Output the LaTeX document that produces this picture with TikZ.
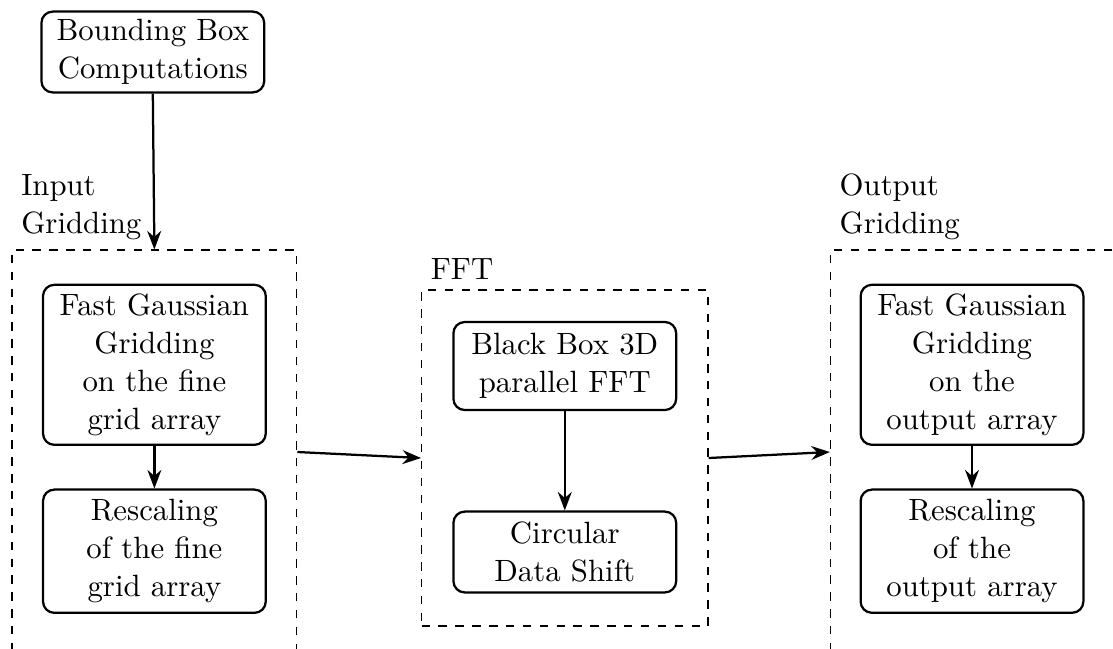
\documentclass[tikz,border=0pt]{standalone}
\usepackage{tikz}
\usetikzlibrary{arrows.meta,positioning}

\begin{document}
\begin{tikzpicture}[
    font=\fontsize{10.95}{13.6}\selectfont,
    stagebox/.style={draw, thick, rounded corners, text width=2.55cm, inner ysep=2pt, align=center},
    frame/.style={draw, dashed, minimum width=3.56cm},
    framelabel/.style={align=left, inner sep=3.3pt},
    arr/.style={-{Stealth}, thick}
  ]
    \clip (0,0) rectangle (13.9125,-8.1);

    \node[stagebox, minimum height=1.01cm] (bbox) at (1.91,-0.65) {Bounding Box\\Computations};

    % input gridding
    \node[frame, minimum height=5.05cm] (inp) at (1.93,-5.65) {};
    \node[framelabel, above right=0mm of inp.north west] (inplab) {Input\\Gridding};
    \node[stagebox, minimum height=2.0cm] (fggin) at (1.93,-4.56) {Fast Gaussian\\Gridding\\on the fine\\grid array};
    \node[stagebox, minimum height=1.54cm] (rscin) at (1.93,-6.89) {Rescaling\\of the fine\\grid array};

    % fft
    \node[frame, minimum width=3.58cm, minimum height=4.2cm] (fft) at (7.06,-5.725) {};
    \node[framelabel, above right=0mm of fft.north west] (fftlab) {FFT};
    \node[stagebox, minimum height=1.1cm] (bbfft) at (7.06,-4.575) {Black Box 3D\\parallel FFT};
    \node[stagebox, minimum height=1.01cm] (shift) at (7.06,-6.9) {Circular\\Data Shift};

    % output gridding
    \node[frame, minimum height=5.05cm] (outp) at (12.16,-5.65) {};
    \node[framelabel, above right=0mm of outp.north west] (outlab) {Output\\Gridding};
    \node[stagebox, minimum height=2.0cm] (fggout) at (12.15,-4.56) {Fast Gaussian\\Gridding\\on the\\output array};
    \node[stagebox, minimum height=1.54cm] (rscout) at (12.15,-6.89) {Rescaling\\of the\\output array};

    \draw[arr] (bbox.south) -- (inp.north);
    \draw[arr] (fggin) -- (rscin);
    \draw[arr] (bbfft) -- (shift);
    \draw[arr] (fggout) -- (rscout);
    \draw[arr] (inp.east) -- (fft.west);
    \draw[arr] (fft.east) -- (outp.west);
  \end{tikzpicture}
\end{document}
